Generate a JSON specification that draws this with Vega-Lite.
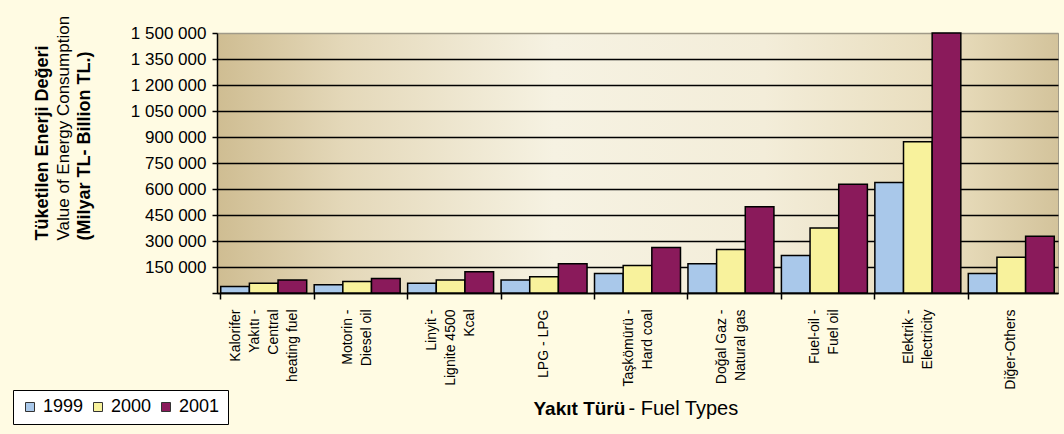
{
  "$schema": "https://vega.github.io/schema/vega-lite/v6.json",
  "width": 841,
  "height": 260,
  "autosize": {"type": "none"},
  "padding": {"left": 217, "top": 33, "right": 6, "bottom": 141},
  "background": "#FFFBE3",
  "config": {
    "font": "Liberation Sans",
    "view": {
      "fill": {"gradient": "linear", "x1": 0, "y1": 0, "x2": 1, "y2": 0,
        "stops": [
          {"offset": 0, "color": "#CFBD92"},
          {"offset": 0.15, "color": "#E4D8B9"},
          {"offset": 0.4, "color": "#F6F2E2"},
          {"offset": 0.65, "color": "#F3EDD9"},
          {"offset": 0.88, "color": "#E7DBBA"},
          {"offset": 1, "color": "#D3C39B"}
        ]},
      "stroke": "#A09A88",
      "strokeWidth": 1
    },
    "axis": {"labelFont": "Liberation Sans", "titleFont": "Liberation Sans", "labelColor": "black", "titleColor": "black", "domainColor": "black", "tickColor": "black"},
    "legend": {"labelFont": "Liberation Sans"}
  },
  "data": {
    "values": [
      {"fuel": "Kalorifer|Yakıtı -|Central|heating fuel", "year": "1999", "value": 37000},
      {"fuel": "Kalorifer|Yakıtı -|Central|heating fuel", "year": "2000", "value": 56000},
      {"fuel": "Kalorifer|Yakıtı -|Central|heating fuel", "year": "2001", "value": 75000},
      {"fuel": "Motorin -|Diesel oil", "year": "1999", "value": 47000},
      {"fuel": "Motorin -|Diesel oil", "year": "2000", "value": 66000},
      {"fuel": "Motorin -|Diesel oil", "year": "2001", "value": 84000},
      {"fuel": "Linyit -|Lignite 4500|Kcal", "year": "1999", "value": 56000},
      {"fuel": "Linyit -|Lignite 4500|Kcal", "year": "2000", "value": 75000},
      {"fuel": "Linyit -|Lignite 4500|Kcal", "year": "2001", "value": 122000},
      {"fuel": "LPG - LPG", "year": "1999", "value": 75000},
      {"fuel": "LPG - LPG", "year": "2000", "value": 94000},
      {"fuel": "LPG - LPG", "year": "2001", "value": 169000},
      {"fuel": "Taşkömürü -|Hard coal", "year": "1999", "value": 112000},
      {"fuel": "Taşkömürü -|Hard coal", "year": "2000", "value": 159000},
      {"fuel": "Taşkömürü -|Hard coal", "year": "2001", "value": 262000},
      {"fuel": "Doğal Gaz -|Natural gas", "year": "1999", "value": 169000},
      {"fuel": "Doğal Gaz -|Natural gas", "year": "2000", "value": 251000},
      {"fuel": "Doğal Gaz -|Natural gas", "year": "2001", "value": 497000},
      {"fuel": "Fuel-oil -|Fuel oil", "year": "1999", "value": 216000},
      {"fuel": "Fuel-oil -|Fuel oil", "year": "2000", "value": 375000},
      {"fuel": "Fuel-oil -|Fuel oil", "year": "2001", "value": 628000},
      {"fuel": "Elektrik -|Electricity", "year": "1999", "value": 638000},
      {"fuel": "Elektrik -|Electricity", "year": "2000", "value": 872000},
      {"fuel": "Elektrik -|Electricity", "year": "2001", "value": 1500000},
      {"fuel": "Diğer-Others", "year": "1999", "value": 112000},
      {"fuel": "Diğer-Others", "year": "2000", "value": 206000},
      {"fuel": "Diğer-Others", "year": "2001", "value": 328000}
    ]
  },
  "layer": [
    {
      "mark": {"type": "bar", "stroke": "black", "strokeWidth": 1.5},
      "encoding": {
        "x": {
          "field": "fuel", "type": "nominal", "sort": null,
          "scale": {"paddingInner": 0.08, "paddingOuter": 0.04},
          "axis": {
            "orient": "bottom",
            "title": "Yakıt Türü",
            "titleFontSize": 19, "titleFontWeight": "bold",
            "titleAlign": "left", "titleAnchor": null,
            "titleX": 316, "titleY": 115, "titleBaseline": "middle",
            "labelAngle": 270, "labelAlign": "right", "labelBaseline": "middle",
            "labelFontSize": 14, "labelLineHeight": 19, "labelPadding": 10,
            "labelExpr": "split(datum.label, '|')",
            "labelOffset": {"condition": [
              {"test": "length(split(datum.value, '|')) == 4", "value": -28},
              {"test": "length(split(datum.value, '|')) == 3", "value": -19},
              {"test": "length(split(datum.value, '|')) == 2", "value": -9}
            ], "value": 0},
            "tickSize": 6, "tickWidth": 1.5, "bandPosition": 0,
            "domainWidth": 1.5, "grid": false, "labelLimit": 200
          }
        },
        "xOffset": {"field": "year", "type": "nominal", "scale": {"paddingInner": 0}},
        "y": {
          "field": "value", "type": "quantitative",
          "scale": {"domain": [0, 1500000], "nice": false},
          "axis": {
            "orient": "left",
            "values": [0, 150000, 300000, 450000, 600000, 750000, 900000, 1050000, 1200000, 1350000, 1500000],
            "labelExpr": "datum.value == 0 ? '' : replace(replace(format(datum.value, ','), ',', ' '), ',', ' ')",
            "labelFontSize": 17, "labelPadding": 6,
            "tickSize": 5, "tickWidth": 1.5, "domainWidth": 1.5,
            "grid": true, "gridColor": {"condition": {"test": "datum.value == 1500000", "value": "#A09A88"}, "value": "black"}, "gridWidth": 1.5, "gridOpacity": 1,
            "title": ["Tüketilen Enerji Değeri", "(Milyar TL- Billion TL.)"],
            "titleFontSize": 18, "titleFontWeight": "bold", "titleLineHeight": 42,
            "titleAngle": 270, "titleAlign": "left", "titleBaseline": "middle",
            "titleX": -175, "titleY": 207, "titleAnchor": null
          }
        },
        "color": {
          "field": "year", "type": "nominal",
          "scale": {"domain": ["1999", "2000", "2001"], "range": ["#A9C8EA", "#F8F29C", "#8A1A5B"]},
          "legend": {
            "title": null, "orient": "none", "legendX": -204, "legendY": 357,
            "direction": "horizontal", "fillColor": "white", "strokeColor": "black",
            "padding": 8, "symbolType": "square", "symbolSize": 81,
            "symbolStrokeColor": "#333333", "symbolStrokeWidth": 1,
            "labelFontSize": 18, "labelColor": "black", "labelOffset": 4, "columnPadding": 5
          }
        }
      }
    },
    {
      "mark": {"type": "bar", "opacity": 0},
      "encoding": {
        "x": {
          "field": "fuel", "type": "nominal", "sort": null,
          "axis": {
            "orient": "bottom",
            "title": "- Fuel Types", "titleFontSize": 20, "titleFontWeight": "normal",
            "titleAlign": "left", "titleAnchor": null,
            "titleX": 411, "titleY": 115, "titleBaseline": "middle",
            "labels": false, "ticks": false, "domain": false, "grid": false
          }
        },
        "y": {
          "field": "value", "type": "quantitative", "stack": null,
          "axis": {
            "orient": "left",
            "title": "Value of Energy Consumption", "titleFontSize": 17, "titleFontWeight": "normal",
            "titleAngle": 270, "titleAlign": "left", "titleBaseline": "middle",
            "titleX": -154, "titleY": 207, "titleAnchor": null,
            "labels": false, "ticks": false, "domain": false, "grid": false
          }
        }
      }
    }
  ],
  "resolve": {"axis": {"x": "independent", "y": "independent"}}
}
